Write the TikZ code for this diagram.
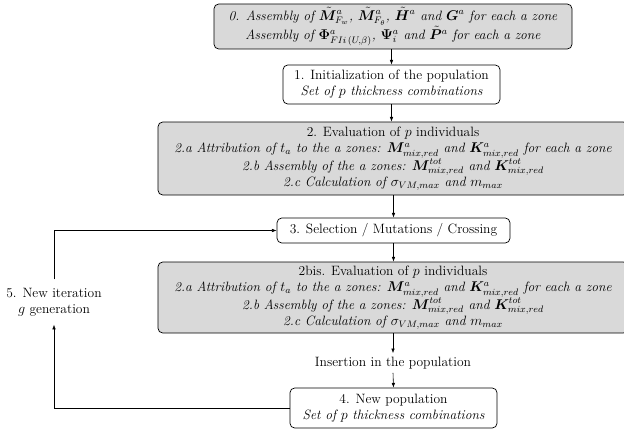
\documentclass[tikz,border=0pt]{standalone}
\usepackage{amsmath}
\usepackage{bm}
\usetikzlibrary{arrows.meta}
\begin{document}
\begin{tikzpicture}[x=0.85pt,y=-0.85pt,
  every node/.style={font=\fontsize{11.5}{13.6}\selectfont},
  box/.style={draw, line width=0.6pt, rounded corners=4pt, align=center, inner sep=2pt},
  grey/.style={box, fill=black!15},
  arr/.style={-{Latex[length=4pt,width=3pt]}, line width=0.5pt}]
\useasboundingbox (0,0) rectangle (624,432);
\node[grey, minimum width=304.3pt, minimum height=38.25pt] (b0) at (393,26.5)
  {\itshape 0. Assembly of ${\tilde{\bm{M}}}^a_{F_w}$, ${\tilde{\bm{M}}}^a_{F_\theta}$, ${\tilde{\bm{H}}}^a$ and $\bm{G}^a$ for each a zone\\
   \itshape Assembly of $\bm{\Phi}^a_{FIi\,(U,\beta)}$, $\bm{\Psi}^a_i$ and ${\tilde{\bm{P}}}^a$ for each a zone};
\node[box, minimum width=184.45pt, minimum height=33.15pt] (b1) at (391.5,84.5)
  {1. Initialization of the population\\ \itshape Set of $p$ thickness combinations};
\node[grey, minimum width=399.5pt, minimum height=62.05pt] (b2) at (393,158.5)
  {2. Evaluation of $p$ individuals\\
   \itshape 2.a Attribution of $t_a$ to the a zones: $\bm{M}^a_{mix,red}$ and $\bm{K}^a_{mix,red}$ for each a zone\\
   \itshape 2.b Assembly of the a zones: $\bm{M}^{tot}_{mix,red}$ and $\bm{K}^{tot}_{mix,red}$\\
   \itshape 2.c Calculation of $\sigma_{VM,max}$ and $m_{max}$};
\node[box, minimum width=198pt, minimum height=21.25pt] (b3) at (393.5,230.5)
  {3. Selection / Mutations / Crossing};
\node[grey, minimum width=399.5pt, minimum height=60.35pt] (b2b) at (393,297.5)
  {2bis. Evaluation of $p$ individuals\\
   \itshape 2.a Attribution of $t_a$ to the a zones: $\bm{M}^a_{mix,red}$ and $\bm{K}^a_{mix,red}$ for each a zone\\
   \itshape 2.b Assembly of the a zones: $\bm{M}^{tot}_{mix,red}$ and $\bm{K}^{tot}_{mix,red}$\\
   \itshape 2.c Calculation of $\sigma_{VM,max}$ and $m_{max}$};
\node[inner sep=3pt] (ins) at (393,363) {Insertion in the population};
\node[box, minimum width=176pt, minimum height=34pt] (b4) at (393.5,408)
  {4. New population\\ \itshape Set of $p$ thickness combinations};
\node[align=center, minimum height=38pt, inner sep=2pt] (lbl) at (54,302)
  {5. New iteration\\ $g$ generation};
\draw[arr] (b0.south -| b1.north) -- (b1.north);
\draw[arr] (b1.south) -- (b1.south |- b2.north);
\draw[arr] (b2.south -| b3.north) -- (b3.north);
\draw[arr] (b3.south) -- (b3.south |- b2b.north);
\draw[arr] (b2b.south -| ins.north) -- (ins.north);
\draw[arr] (ins.south) -- (b4.north);
\draw[arr] (b4.west) -| (lbl.south);
\draw[arr] (lbl.north) |- (b3.west);
\end{tikzpicture}
\end{document}
